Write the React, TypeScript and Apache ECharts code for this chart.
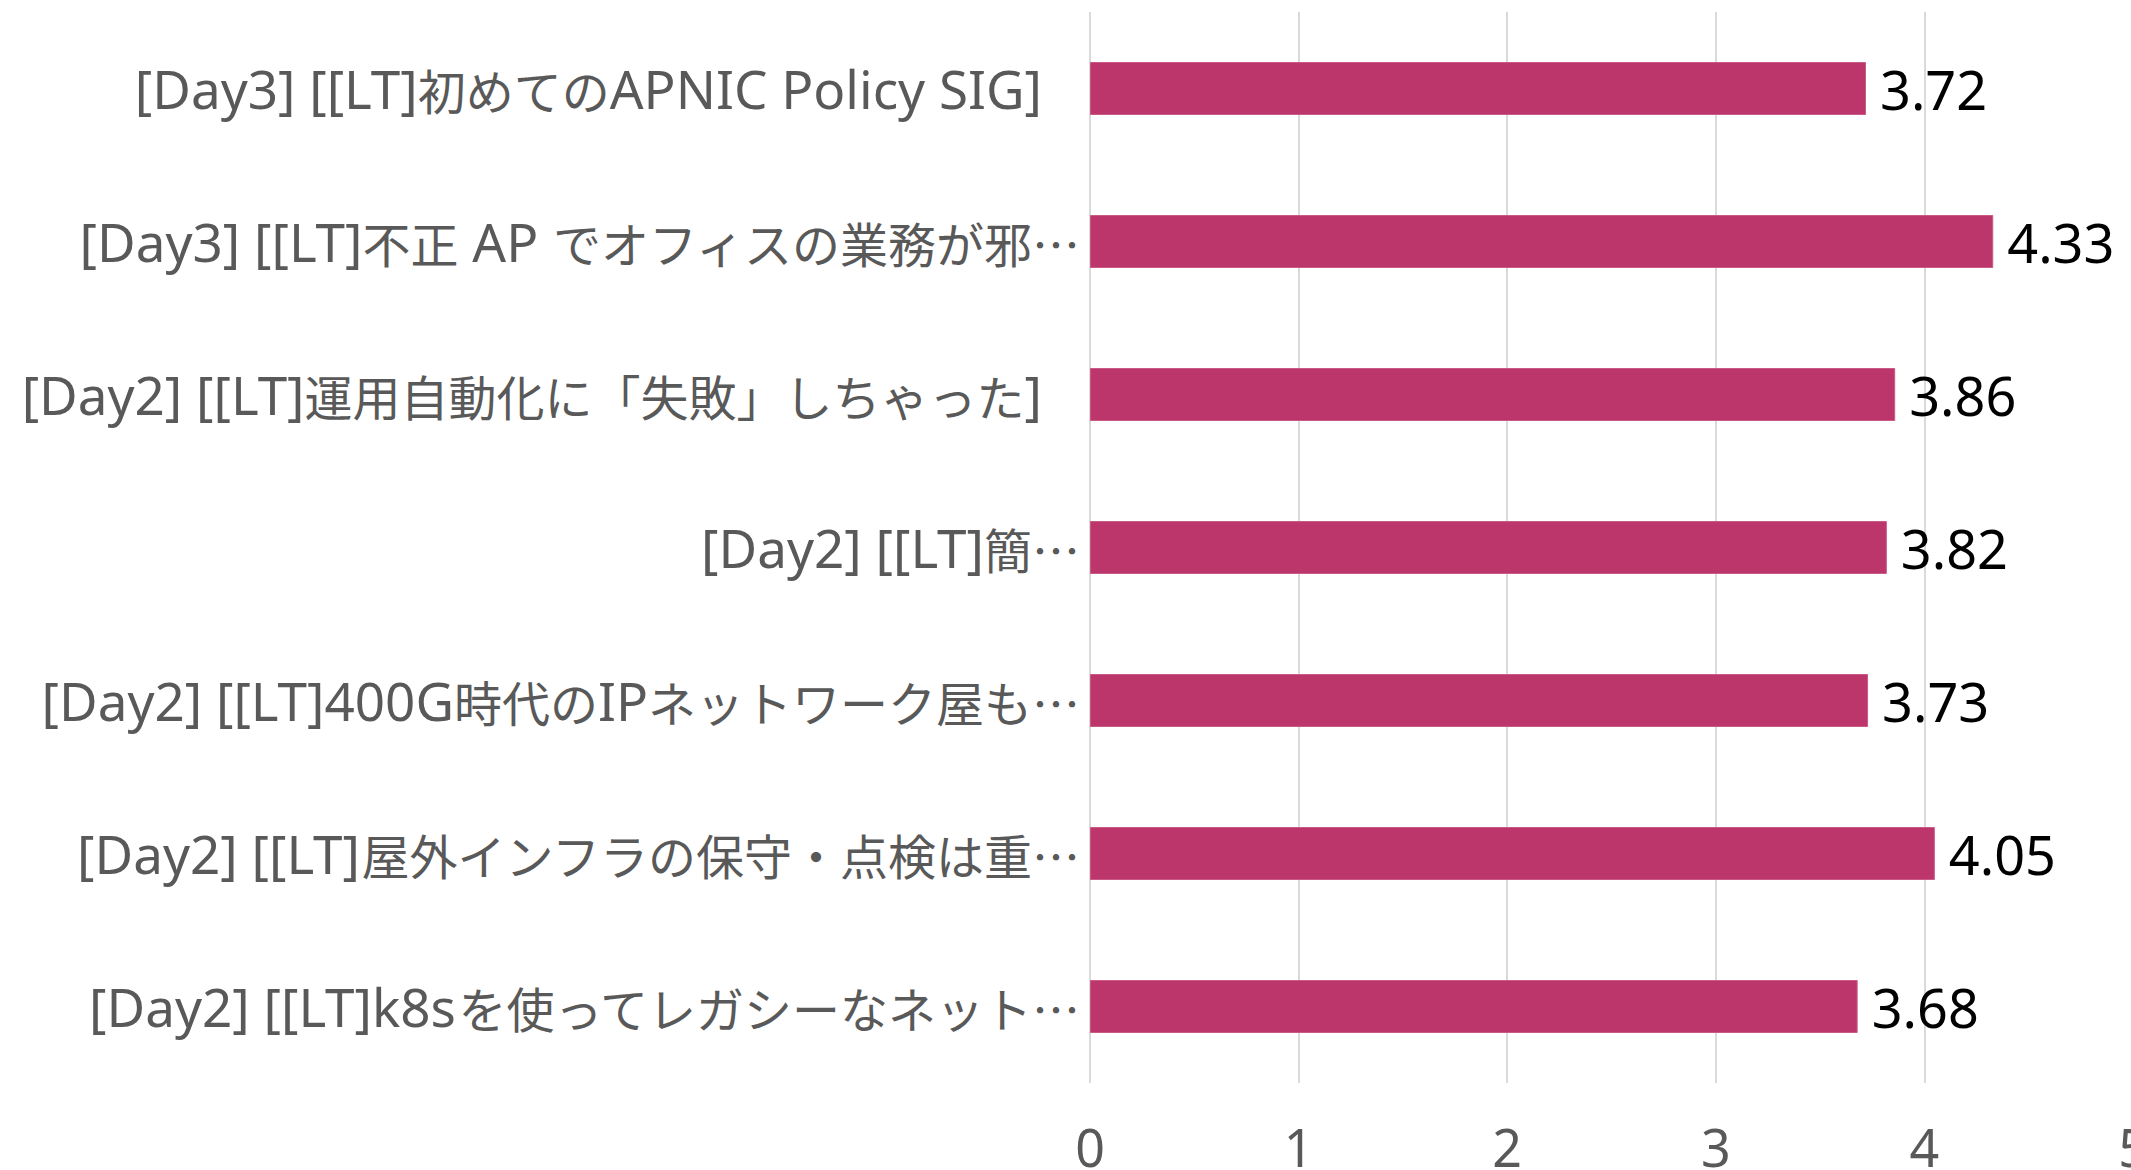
import React, { useEffect, useRef } from "react";
import * as echarts from "echarts";

const categories = [
  "[Day3] [[LT]初めてのAPNIC Policy SIG]",
  "[Day3] [[LT]不正 AP でオフィスの業務が邪…",
  "[Day2] [[LT]運用自動化に「失敗」しちゃった]",
  "[Day2] [[LT]簡…",
  "[Day2] [[LT]400G時代のIPネットワーク屋も…",
  "[Day2] [[LT]屋外インフラの保守・点検は重…",
  "[Day2] [[LT]k8sを使ってレガシーなネット…",
];
const scores = [3.72, 4.33, 3.86, 3.82, 3.73, 4.05, 3.68];
const xTicks = [0, 1, 2, 3, 4, 5];

const FONT = "'Noto Sans', 'Noto Sans CJK JP', sans-serif";
const CJK = "'Noto Sans CJK JP', sans-serif";
const LABEL_GRAY = "#595959";

function richLabel(v: string): string {
  const runs = v.match(/[\x00-\x7F]+|[^\x00-\x7F]+/g) || [v];
  const truncated = v.endsWith("…");
  return runs
    .map((r, i) => {
      const latin = /^[\x00-\x7F]/.test(r);
      const last = i === runs.length - 1 && !truncated;
      const key = (latin ? "l" : "c") + (last ? "p" : "");
      return `{${key}|${r}}`;
    })
    .join("");
}

export default function App() {
  const ref = useRef<HTMLDivElement>(null);
  useEffect(() => {
    if (!ref.current) return;
    const chart = echarts.init(ref.current, undefined, { renderer: "svg" });
    const latinStyle = { color: LABEL_GRAY, fontSize: 53, fontFamily: FONT };
    const cjkStyle = { color: LABEL_GRAY, fontSize: 48, fontFamily: CJK };
    chart.setOption({
      animation: false,
      textStyle: { fontFamily: FONT },
      grid: {
        left: 1090,
        width: 1043,
        top: 12,
        bottom: 87,
        containLabel: false,
        outerBoundsMode: "none",
      },
      xAxis: {
        type: "value",
        min: xTicks[0],
        max: xTicks[xTicks.length - 1],
        interval: 1,
        axisLine: { show: false },
        axisTick: { show: false },
        splitLine: { show: true, lineStyle: { color: "#dadada", width: 2 } },
        axisLabel: {
          color: LABEL_GRAY,
          fontSize: 52,
          lineHeight: 40,
          fontFamily: FONT,
          margin: 43,
          showMaxLabel: true,
        },
      },
      yAxis: {
        type: "category",
        inverse: true,
        data: categories,
        axisLine: { show: false },
        axisTick: { show: false },
        splitLine: { show: false },
        axisLabel: {
          color: LABEL_GRAY,
          fontSize: 53,
          fontFamily: FONT,
          margin: 10,
          formatter: (v: string) => richLabel(v),
          rich: {
            l: latinStyle,
            c: cjkStyle,
            lp: { ...latinStyle, padding: [0, 38, 0, 0] },
            cp: { ...cjkStyle, padding: [0, 38, 0, 0] },
          },
        },
      },
      series: [
        {
          type: "bar",
          data: scores,
          barWidth: 53,
          itemStyle: { color: "#bc356b", borderColor: "#c95a86", borderWidth: 1 },
          label: {
            show: true,
            position: "right",
            distance: 14,
            color: "#000000",
            fontSize: 54,
            fontFamily: FONT,
            formatter: (p: any) => p.value.toFixed(2),
          },
        },
      ],
    });
    return () => chart.dispose();
  }, []);
  return (
    <div
      ref={ref}
      style={{ position: "fixed", left: 0, top: 0, width: 2131, height: 1170, background: "#fff" }}
    />
  );
}
